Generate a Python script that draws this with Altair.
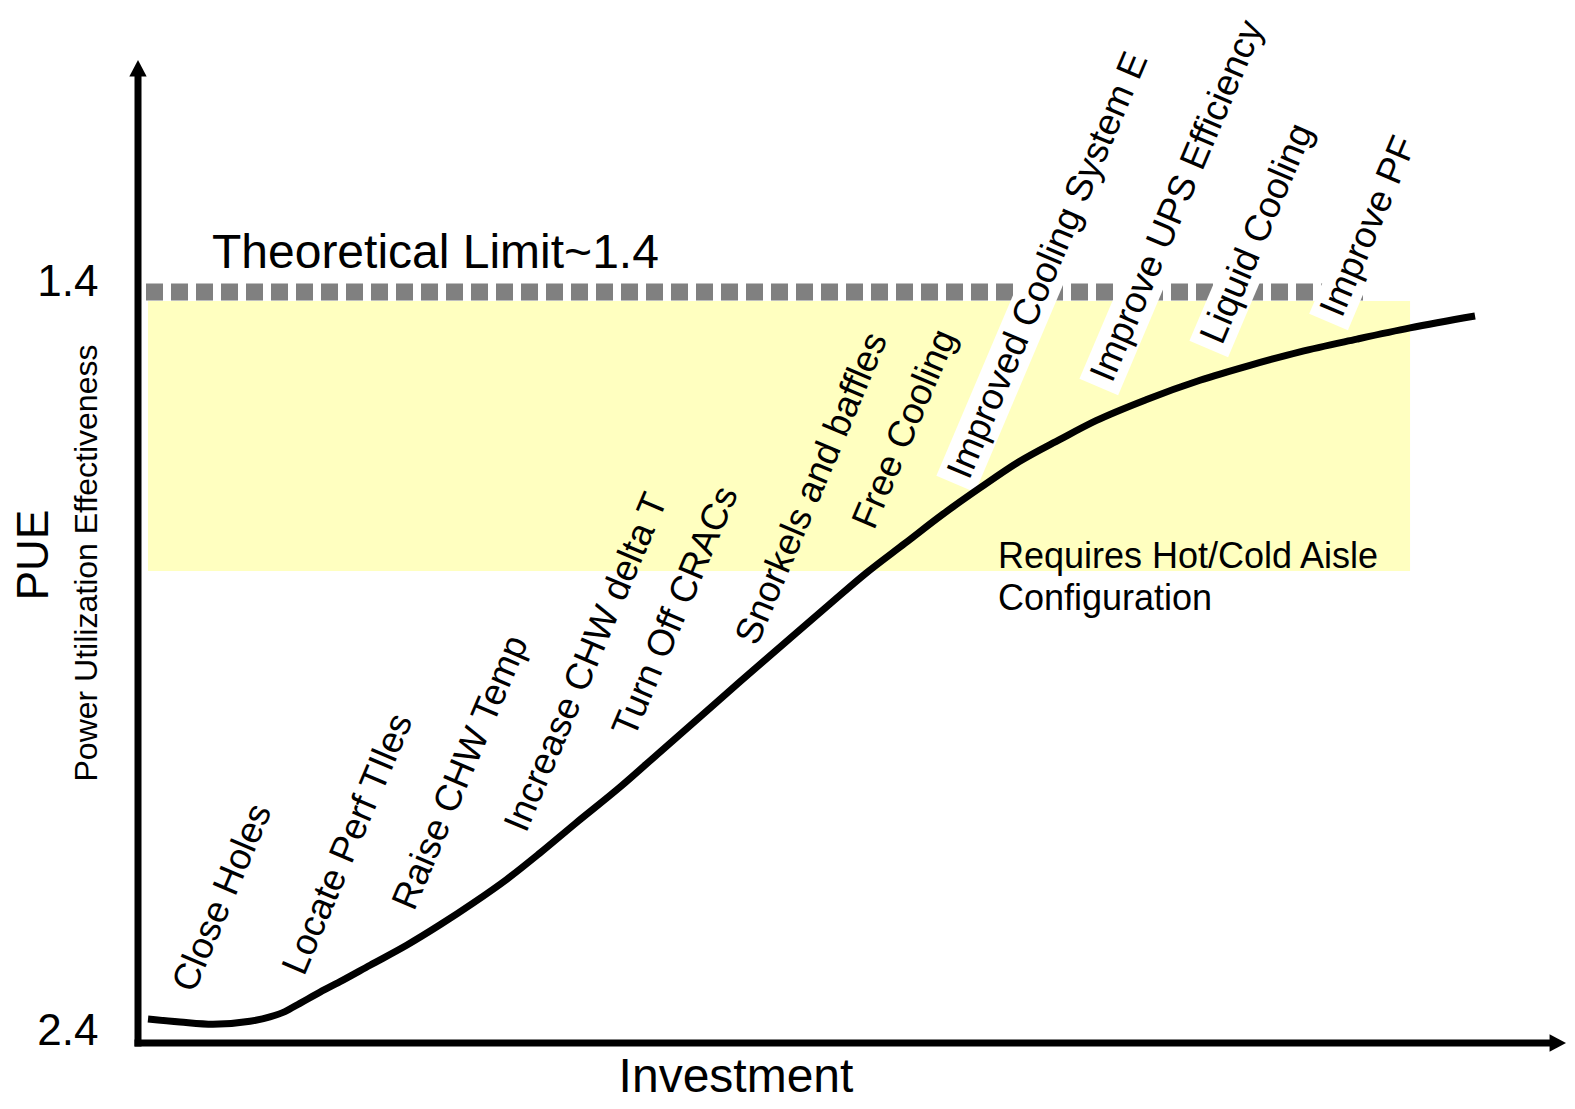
import math
import altair as alt
import pandas as pd

# ---------------- data ----------------
investment = [0.70, 2.94, 5.25, 7.84, 9.24, 10.29, 11.34, 12.75, 14.15, 16.25, 18.84,
              21.15, 23.46, 25.84, 28.15, 30.60, 33.75, 36.55, 39.36, 42.16, 45.66,
              48.46, 50.98, 53.71, 56.37, 58.96, 61.69, 64.57, 67.09, 70.59, 74.37,
              77.87, 81.37, 85.36, 89.08, 93.63]
pue = [2.372, 2.376, 2.379, 2.375, 2.369, 2.362, 2.351, 2.336, 2.322, 2.300, 2.273,
       2.246, 2.217, 2.185, 2.150, 2.111, 2.062, 2.015, 1.968, 1.921, 1.863,
       1.817, 1.776, 1.736, 1.697, 1.662, 1.627, 1.597, 1.572, 1.544, 1.518,
       1.498, 1.480, 1.463, 1.448, 1.432]

step_labels = ["Close Holes", "Locate Perf TIles", "Raise CHW Temp", "Increase CHW delta T",
               "Turn Off CRACs", "Snorkels and baffles", "Free Cooling",
               "Improved Cooling System E", "Improve UPS Efficiency", "Liquid Cooling",
               "Improve PF"]
step_x = [3.92, 11.62, 19.33, 27.17, 34.73, 43.35, 51.54, 58.19, 68.21, 75.91, 84.30]
step_y = [2.3385, 2.3157, 2.2288, 2.1246, 1.9976, 1.8746, 1.7195, 1.6526, 1.5230, 1.4722, 1.4361]
step_boxed = [False, False, False, False, False, False, False, True, True, True, True]

limit_value = 1.4
limit_x = [0.56, 86.27]
zone_x = [0.70, 89.08]
zone_y = [1.412, 1.773]
zone_note = ["Requires Hot/Cold Aisle", "Configuration"]
zone_note_x = [60.22, 60.22]
zone_note_y = [1.769, 1.825]
limit_text = "Theoretical Limit~1.4"
limit_text_xy = [5.18, 1.368]
y_ticks = [1.4, 2.4]

# ---------------- layout ----------------
W, H = 1428, 983
X_DOMAIN = [0, 100]
Y_DOMAIN = [1.08984, 2.40401]
PX_X = W / (X_DOMAIN[1] - X_DOMAIN[0])
PX_Y = H / (Y_DOMAIN[1] - Y_DOMAIN[0])
FONT = "Liberation Sans"
LABEL_SIZE = 37
ANGLE = 67  # degrees counter-clockwise

XS = alt.Scale(domain=X_DOMAIN, nice=False, zero=False)
YS = alt.Scale(domain=Y_DOMAIN, reverse=True, nice=False, zero=False)
XA = alt.Axis(labels=False, ticks=False, domain=False, grid=False, title=None)
YA = alt.Axis(values=y_ticks, format=".1f", domain=False, ticks=False, tickSize=0, grid=False,
              labelFontSize=44, labelFont=FONT, labelColor="black", labelPadding=40,
              labelOffset=-9, title=None)


def X(f):
    return alt.X(f, type="quantitative", scale=XS, axis=XA)


def Y(f):
    return alt.Y(f, type="quantitative", scale=YS, axis=YA)


one = pd.DataFrame({"a": [0]})

curve_df = pd.DataFrame({"x": investment, "y": pue})
steps_df = pd.DataFrame({"label": step_labels, "x": step_x, "y": step_y, "boxed": step_boxed})

# white boxes behind the upper labels (derived from the label anchors)
th = math.radians(ANGLE)
d = (math.cos(th), -math.sin(th))      # text direction (screen px)
u = (-math.sin(th), -math.cos(th))     # "up" of the text (screen px)
box_rows = []
for lab, x, y, b in zip(step_labels, step_x, step_y, step_boxed):
    if not b:
        continue
    length = 0.56 * LABEL_SIZE * len(lab) + 10
    off = 11
    sx = -8 * d[0] + off * u[0]
    sy = -8 * d[1] + off * u[1]
    ex = length * d[0] + off * u[0]
    ey = length * d[1] + off * u[1]
    box_rows.append({"x": x + sx / PX_X, "y": y + sy / PX_Y,
                     "x2": x + ex / PX_X, "y2": y + ey / PX_Y})
box_df = pd.DataFrame(box_rows)

zone = alt.Chart(pd.DataFrame({"x": [zone_x[0]], "x2": [zone_x[1]],
                               "y": [zone_y[0]], "y2": [zone_y[1]]})).mark_rect(
    color="#FFFFC0").encode(x=X("x"), x2="x2", y=Y("y"), y2="y2")

limit = alt.Chart(pd.DataFrame({"x": [limit_x[0]], "x2": [limit_x[1]], "y": [limit_value]})).mark_rule(
    color="#808080", strokeWidth=17, strokeDash=[17, 8], strokeCap="butt").encode(
    x=X("x"), x2="x2", y=Y("y"))

boxes = alt.Chart(box_df).mark_rule(color="white", strokeWidth=42, strokeCap="butt").encode(
    x=X("x"), x2="x2", y=Y("y"), y2="y2")

curve = alt.Chart(curve_df).mark_line(color="black", strokeWidth=7, interpolate="monotone",
                                      strokeCap="butt").encode(x=X("x"), y=Y("y"))

y_axis_line = alt.Chart(one).mark_rule(color="black", strokeWidth=7).encode(
    x=alt.value(0), y=alt.value(15), y2=alt.value(986.5))
x_axis_line = alt.Chart(one).mark_rule(color="black", strokeWidth=7).encode(
    x=alt.value(-3.5), x2=alt.value(W - 14), y=alt.value(983))
arrow_up = alt.Chart(one).mark_point(shape="M -1 0.9 L 0 -1 L 1 0.9 Z", filled=True, size=300,
                                     color="black", opacity=1, strokeWidth=0).encode(
    x=alt.value(0), y=alt.value(8.66))
arrow_right = alt.Chart(one).mark_point(shape="M -0.9 -1 L 1 0 L -0.9 1 Z", filled=True, size=300,
                                        color="black", opacity=1, strokeWidth=0).encode(
    x=alt.value(W - 8.66), y=alt.value(983))

step_text = alt.Chart(steps_df).mark_text(font=FONT, fontSize=LABEL_SIZE, angle=360 - ANGLE,
                                          align="left", baseline="alphabetic",
                                          color="black").encode(
    x=X("x"), y=Y("y"), text="label:N")

limit_label = alt.Chart(pd.DataFrame({"t": [limit_text], "x": [limit_text_xy[0]],
                                      "y": [limit_text_xy[1]]})).mark_text(
    font=FONT, fontSize=48, align="left", baseline="alphabetic", color="black").encode(
    x=X("x"), y=Y("y"), text="t:N")

zone_label = alt.Chart(pd.DataFrame({"t": zone_note, "x": zone_note_x, "y": zone_note_y})).mark_text(
    font=FONT, fontSize=36, align="left", baseline="alphabetic", color="black").encode(
    x=X("x"), y=Y("y"), text="t:N")

pue_title = alt.Chart(one).mark_text(text="PUE", font=FONT, fontSize=44, angle=270,
                                     align="center", baseline="middle", color="black").encode(
    x=alt.value(-103), y=alt.value(495))
pue_sub = alt.Chart(one).mark_text(text="Power Utilization Effectiveness", font=FONT, fontSize=32,
                                   angle=270, align="center", baseline="middle",
                                   color="black").encode(
    x=alt.value(-51), y=alt.value(503))
x_title = alt.Chart(one).mark_text(text="Investment", font=FONT, fontSize=48, align="center",
                                   baseline="alphabetic", color="black").encode(
    x=alt.value(598), y=alt.value(1032))

chart = alt.layer(
    zone, limit, boxes, curve, y_axis_line, x_axis_line, arrow_up, arrow_right,
    step_text, limit_label, zone_label, pue_title, pue_sub, x_title
).properties(
    width=W, height=H,
    autosize=alt.AutoSizeParams(type="none"),
    padding={"left": 130, "top": 52, "right": 0, "bottom": 58},
    background="white",
).configure_view(stroke=None)

chart.save("out.html", embed_options={"renderer": "svg", "actions": False})
